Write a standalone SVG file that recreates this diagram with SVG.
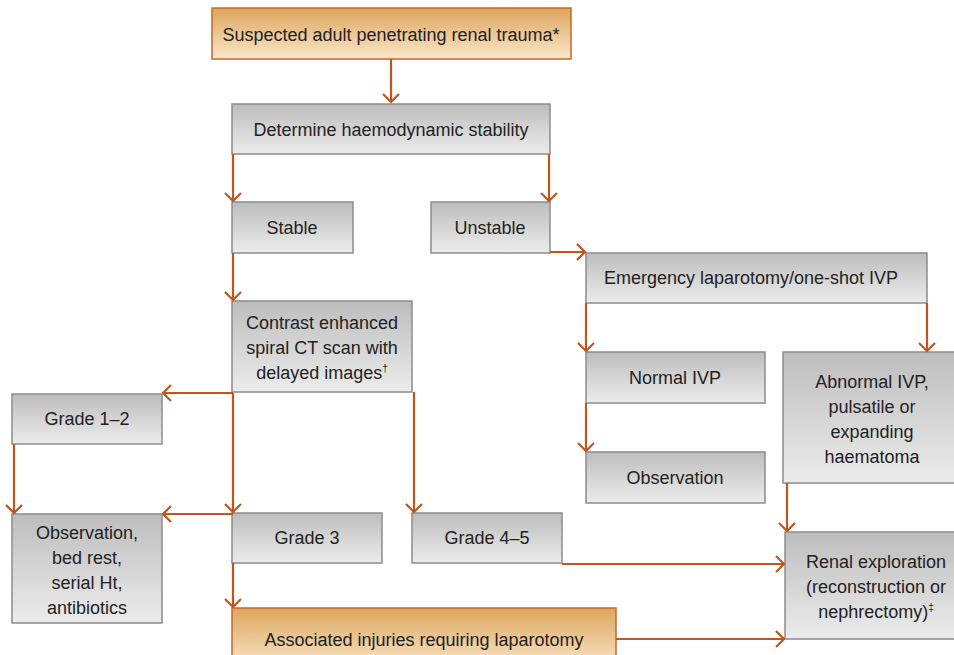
<svg xmlns="http://www.w3.org/2000/svg" width="954" height="655" viewBox="0 0 954 655">
<defs>
<linearGradient id="gGray" x1="0" y1="0" x2="0" y2="1">
<stop offset="0" stop-color="#bdbdbd"/>
<stop offset="1" stop-color="#ececec"/>
</linearGradient>
<linearGradient id="gOrange" x1="0" y1="0" x2="0" y2="1">
<stop offset="0" stop-color="#dca55e"/>
<stop offset="1" stop-color="#fbe7c9"/>
</linearGradient>
<marker id="arr" markerUnits="userSpaceOnUse" markerWidth="20" markerHeight="20" viewBox="-10 -10 20 20" refX="0" refY="0" orient="auto">
<path d="M-8,-8 L0,0 L-8,8" fill="none" stroke="#c0561e" stroke-width="2.2"/>
</marker>
</defs>
<style>
.g{fill:url(#gGray);stroke:#8c8c8c;stroke-width:1.5}
.o{fill:url(#gOrange);stroke:#c8662a;stroke-width:1.5}
text{font-family:"Liberation Sans",Arial,sans-serif;font-size:18px;fill:#222;text-anchor:middle}
.c{fill:none;stroke:#c0561e;stroke-width:2.2}
.a{marker-end:url(#arr)}
</style>
<rect width="954" height="655" fill="#ffffff"/>
<g id="n-suspected"><rect class="o" x="212" y="8" width="359" height="51"/><text x="391" y="41">Suspected adult penetrating renal trauma*</text></g>
<g id="n-determine"><rect class="g" x="232" y="104" width="318" height="50"/><text x="391" y="136">Determine haemodynamic stability</text></g>
<g id="n-stable"><rect class="g" x="232" y="202" width="121" height="51"/><text x="292" y="234">Stable</text></g>
<g id="n-unstable"><rect class="g" x="431" y="202" width="119" height="51"/><text x="490" y="234">Unstable</text></g>
<g id="n-emergency"><rect class="g" x="586" y="253" width="341" height="50"/><text x="751" y="284">Emergency laparotomy/one-shot IVP</text></g>
<g id="n-ct"><rect class="g" x="232" y="301" width="180" height="91"/><text x="322" y="329">Contrast enhanced</text><text x="322" y="354">spiral CT scan with</text><text x="322" y="379">delayed images<tspan font-size="10" dy="-7">†</tspan></text></g>
<g id="n-normal"><rect class="g" x="586" y="352" width="179" height="51"/><text x="675" y="384">Normal IVP</text></g>
<g id="n-abnormal"><rect class="g" x="783" y="352" width="180" height="131"/><text x="872" y="388">Abnormal IVP,</text><text x="872" y="413">pulsatile or</text><text x="872" y="438">expanding</text><text x="872" y="463">haematoma</text></g>
<g id="n-grade12"><rect class="g" x="12" y="394" width="150" height="50"/><text x="87" y="425">Grade 1–2</text></g>
<g id="n-observation2"><rect class="g" x="586" y="452" width="179" height="51"/><text x="675" y="484">Observation</text></g>
<g id="n-observation1"><rect class="g" x="12" y="514" width="150" height="109"/><text x="87" y="539">Observation,</text><text x="87" y="564">bed rest,</text><text x="87" y="589">serial Ht,</text><text x="87" y="614">antibiotics</text></g>
<g id="n-grade3"><rect class="g" x="232" y="513" width="150" height="50"/><text x="307" y="544">Grade 3</text></g>
<g id="n-grade45"><rect class="g" x="412" y="513" width="150" height="50"/><text x="487" y="544">Grade 4–5</text></g>
<g id="n-renal"><rect class="g" x="785" y="532" width="180" height="107"/><text x="876" y="568">Renal exploration</text><text x="876" y="593">(reconstruction or</text><text x="876" y="618">nephrectomy)<tspan font-size="10" dy="-7">‡</tspan></text></g>
<g id="n-associated"><rect class="o" x="232" y="608" width="384" height="60"/><text x="424" y="646">Associated injuries requiring laparotomy</text></g>
<g id="connectors">
<path class="c a" d="M391,59 V102"/>
<path class="c a" d="M233,154 V201"/>
<path class="c a" d="M549,154 V201"/>
<path class="c a" d="M550,252 H585"/>
<path class="c a" d="M233,253 V300"/>
<path class="c a" d="M586,303 V351"/>
<path class="c a" d="M927,303 V351"/>
<path class="c a" d="M586,403 V451"/>
<path class="c a" d="M787,483 V531"/>
<path class="c a" d="M233,393 H163"/>
<path class="c a" d="M233,393 V512"/>
<path class="c a" d="M414,392 V512"/>
<path class="c a" d="M14,444 V513"/>
<path class="c a" d="M233,514 H163"/>
<path class="c a" d="M233,563 V607"/>
<path class="c a" d="M562,564 H784"/>
<path class="c a" d="M616,639 H784"/>
</g>
</svg>
